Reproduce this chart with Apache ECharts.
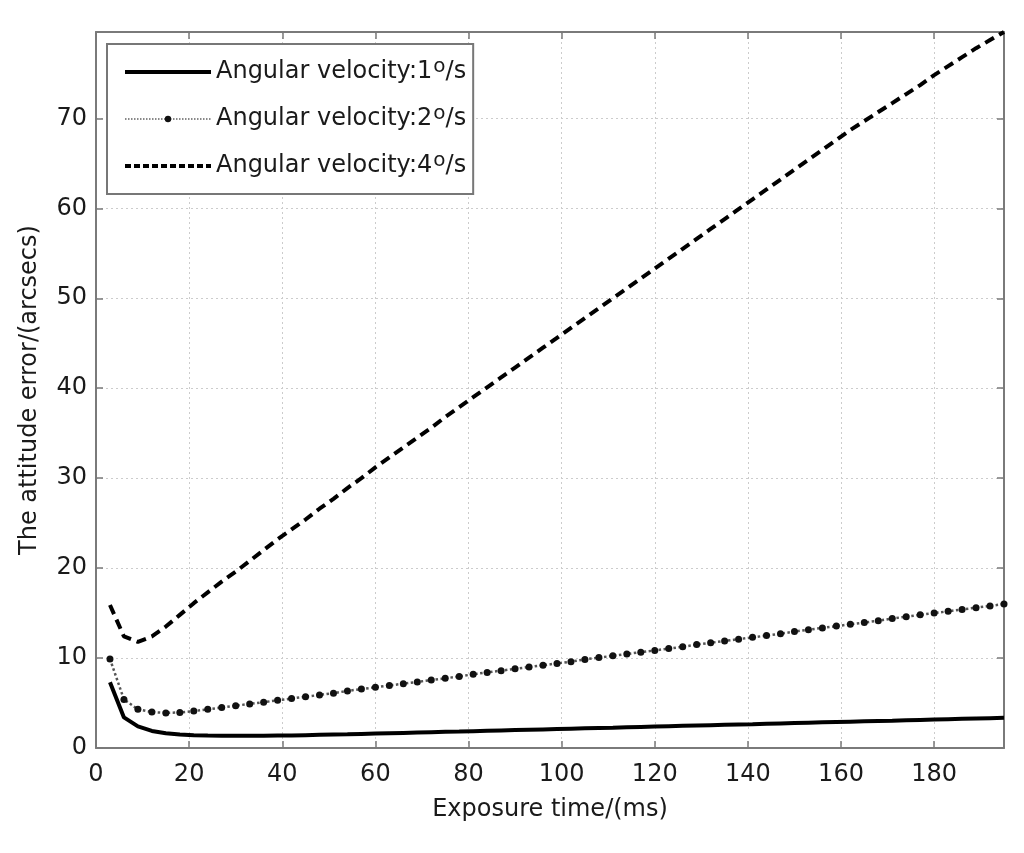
<!DOCTYPE html>
<html>
<head>
<meta charset="utf-8">
<script src="https://cdn.jsdelivr.net/npm/echarts@6/dist/echarts.min.js"></script>
<style>
html,body{margin:0;padding:0;background:#fff;}
#chart{width:1024px;height:853px;}
</style>
</head>
<body>
<div id="chart"></div>
<script>
// Exposure time (ms)
var exposureTimes = [3,6,9,12,15,18,21,24,27,30,33,36,39,42,45,48,51,54,57,60,63,66,69,72,75,78,81,84,87,90,93,96,99,102,105,108,111,114,117,120,123,126,129,132,135,138,141,144,147,150,153,156,159,162,165,168,171,174,177,180,183,186,189,192,195];
// Attitude error (arcsecs) per angular velocity
var vel1 = [7.3,3.4,2.4,1.9,1.65,1.5,1.42,1.38,1.36,1.35,1.35,1.36,1.38,1.4,1.43,1.46,1.49,1.52,1.56,1.6,1.64,1.68,1.72,1.76,1.8,1.83,1.87,1.91,1.95,1.99,2.03,2.07,2.11,2.15,2.19,2.23,2.26,2.3,2.34,2.38,2.42,2.46,2.5,2.54,2.58,2.62,2.65,2.69,2.73,2.77,2.81,2.85,2.89,2.93,2.97,3.01,3.04,3.08,3.12,3.16,3.2,3.24,3.28,3.32,3.35];
var vel2 = [9.9,5.4,4.3,4.0,3.9,3.95,4.1,4.3,4.5,4.7,4.9,5.1,5.3,5.5,5.7,5.9,6.1,6.35,6.55,6.75,6.95,7.15,7.35,7.55,7.75,7.95,8.2,8.4,8.6,8.8,9.0,9.2,9.4,9.6,9.85,10.05,10.25,10.45,10.65,10.85,11.05,11.25,11.5,11.7,11.9,12.1,12.3,12.5,12.7,12.95,13.15,13.35,13.55,13.75,13.95,14.15,14.4,14.6,14.8,15.0,15.2,15.4,15.6,15.8,16.0];
var vel4 = [15.9,12.4,11.8,12.4,13.5,14.8,16.1,17.3,18.5,19.6,20.8,22.0,23.2,24.3,25.4,26.6,27.7,28.9,30.0,31.2,32.3,33.4,34.5,35.6,36.8,37.9,39.0,40.1,41.2,42.3,43.4,44.5,45.6,46.7,47.8,48.9,50.0,51.1,52.2,53.3,54.4,55.5,56.6,57.7,58.8,59.9,61.0,62.1,63.2,64.3,65.4,66.5,67.6,68.7,69.7,70.7,71.7,72.7,73.7,74.8,75.8,76.8,77.8,78.7,79.6];
var seriesNames = ['Angular velocity:1°/s','Angular velocity:2°/s','Angular velocity:4°/s'];
var xTitle = 'Exposure time/(ms)';
var yTitle = 'The attitude error/(arcsecs)';

function pairs(xs, ys){ return xs.map(function(x,i){ return [x, ys[i]]; }); }

var FONT = 'DejaVu Sans';
var TXT = '#1a1a1a';
var AX = '#7a7a7a';

var chart = echarts.init(document.getElementById('chart'), null, {renderer:'canvas'});

function baseX(extra){
  return Object.assign({
    type:'value', min:0, max:195, interval:20,
    axisLine:{show:true, onZero:false, lineStyle:{color:AX, width:2}},
    axisTick:{show:true, inside:true, length:7, lineStyle:{color:AX, width:1.5}},
    splitLine:{show:false}
  }, extra);
}
function baseY(extra){
  return Object.assign({
    type:'value', min:0, max:79.6, interval:10,
    axisLine:{show:true, onZero:false, lineStyle:{color:AX, width:2}},
    axisTick:{show:true, inside:true, length:7, lineStyle:{color:AX, width:1.5}},
    splitLine:{show:false}
  }, extra);
}

var option = {
  animation:false,
  backgroundColor:'#fff',
  grid:{left:96, right:20, top:32, bottom:105, containLabel:false},
  xAxis:[
    baseX({
      position:'bottom',
      name:xTitle, nameLocation:'middle', nameGap:50,
      nameTextStyle:{fontFamily:FONT, fontSize:24, color:TXT},
      axisLabel:{show:true, margin:15, fontFamily:FONT, fontSize:24, color:TXT, showMaxLabel:false},
      splitLine:{show:true, lineStyle:{color:'#cccccc', width:1, type:[2,3]}}
    }),
    baseX({position:'top', axisLabel:{show:false}})
  ],
  yAxis:[
    baseY({
      position:'left',
      name:yTitle, nameLocation:'middle', nameGap:54, nameRotate:90,
      nameTextStyle:{fontFamily:FONT, fontSize:24, color:TXT},
      axisLabel:{show:true, margin:9, fontFamily:FONT, fontSize:24, color:TXT, showMaxLabel:false},
      splitLine:{show:true, lineStyle:{color:'#cccccc', width:1, type:[2,3]}}
    }),
    baseY({position:'right', axisLabel:{show:false}})
  ],
  legend:{
    show:true,
    orient:'vertical',
    left:107, top:44,
    padding:[13,7,13,16],
    itemGap:17,
    itemWidth:86, itemHeight:8,
    backgroundColor:'#fff',
    borderColor:'#777', borderWidth:2, borderRadius:0,
    data:[
      {name:seriesNames[0], itemStyle:{opacity:0}, lineStyle:{width:4, color:'#000', type:'solid'}},
      {name:seriesNames[1], itemStyle:{color:'#111'}, lineStyle:{width:2, color:'#888', type:[1.5,1.5]}},
      {name:seriesNames[2], itemStyle:{opacity:0}, lineStyle:{width:4, color:'#000', type:[6,3]}}
    ],
    formatter:function(name){ return name.replace('°','{sup|o}'); },
    textStyle:{
      fontFamily:FONT, fontSize:24, color:TXT, lineHeight:30,
      rich:{ sup:{fontFamily:FONT, fontSize:20, color:TXT, verticalAlign:'top', lineHeight:10, padding:[0,0,0,1]} }
    }
  },
  series:[
    {
      name:seriesNames[0], type:'line', xAxisIndex:0, yAxisIndex:0,
      data:pairs(exposureTimes, vel1),
      symbol:'none', smooth:false,
      lineStyle:{color:'#000', width:4, type:'solid'},
      itemStyle:{color:'#000'}, z:3
    },
    {
      name:seriesNames[1], type:'line', xAxisIndex:0, yAxisIndex:0,
      data:pairs(exposureTimes, vel2),
      symbol:'circle', symbolSize:7, showSymbol:true,
      lineStyle:{color:'#555', width:2.5, type:'dotted'},
      itemStyle:{color:'#111', borderWidth:0}, z:3
    },
    {
      name:seriesNames[2], type:'line', xAxisIndex:0, yAxisIndex:0,
      data:pairs(exposureTimes, vel4),
      symbol:'none',
      lineStyle:{color:'#000', width:4, type:[10,6]},
      itemStyle:{color:'#000'}, z:3
    }
  ]
};
chart.setOption(option);
</script>
</body>
</html>
